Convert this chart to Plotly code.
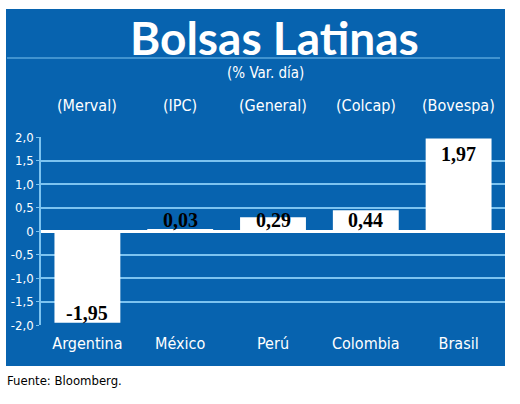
import plotly.graph_objects as go

paises = ["Argentina", "México", "Perú", "Colombia", "Brasil"]
indices = ["(Merval)", "(IPC)", "(General)", "(Colcap)", "(Bovespa)"]
variacion = [-1.95, 0.03, 0.29, 0.44, 1.97]
tick_vals = [2.0, 1.5, 1.0, 0.5, 0, -0.5, -1.0, -1.5, -2.0]
tick_text = ["2,0", "1,5", "1,0", "0,5", "0", "-0,5", "-1,0", "-1,5", "-2,0"]

BLUE = "#0763af"
GRID = "#7cc3f0"
COND = "DejaVu Sans Condensed, sans-serif"

fig = go.Figure()
fig.add_trace(go.Bar(x=paises, y=variacion, marker=dict(color="white", line=dict(width=0)),
                     hoverinfo="skip"))

def fmt(v):
    return f"{v:.2f}".replace(".", ",")

# pixel -> paper conversion: plot area spans x 41..505, y 137..325
def py(pix):
    return (325 - pix) / (325 - 137)
def px(pix):
    return (pix - 41) / (505 - 41)

annotations = []
for p, v in zip(paises, variacion):
    if abs(v) > 1:
        ya = v - 0.33 if v > 0 else v + 0.2
    else:
        ya = 0.24
    annotations.append(dict(x=p, y=ya, xref="x", yref="y", text=f"<b>{fmt(v)}</b>",
                            showarrow=False, xanchor="center", yanchor="middle",
                            font=dict(family="Liberation Serif", size=20, color="black")))
for p, t in zip(paises, indices):
    annotations.append(dict(x=p, y=py(105), xref="x", yref="paper", text=t, showarrow=False,
                            xanchor="center", yanchor="middle",
                            font=dict(family=COND, size=16, color="white")))

annotations += [
    dict(x=px(274), y=py(37), xref="paper", yref="paper", text="<b>Bolsas Latinas</b>", showarrow=False,
         xanchor="center", yanchor="middle", font=dict(family="Lato", size=46, color="white")),
    dict(x=px(265), y=py(73), xref="paper", yref="paper", text="(% Var. día)", showarrow=False,
         xanchor="center", yanchor="middle", font=dict(family=COND, size=15, color="white")),
    dict(x=px(5), y=py(380), xref="paper", yref="paper", text="Fuente: Bloomberg.", showarrow=False,
         xanchor="left", yanchor="middle", font=dict(family=COND, size=13, color="black")),
]

shapes = [
    dict(type="rect", xref="paper", yref="paper", x0=px(6), x1=px(505), y0=py(366), y1=py(9),
         fillcolor=BLUE, line=dict(width=0), layer="below"),
    dict(type="line", xref="paper", yref="paper", x0=px(7), x1=px(500), y0=py(58), y1=py(58),
         line=dict(color=GRID, width=1.2)),
]

fig.update_layout(
    width=520, height=404,
    margin=dict(l=41, r=15, t=137, b=79),
    paper_bgcolor="white", plot_bgcolor=BLUE,
    showlegend=False, bargap=0.29,
    annotations=annotations, shapes=shapes,
    xaxis=dict(showgrid=False, zeroline=False, showline=False, ticks="", ticklabelstandoff=7,
               tickfont=dict(family=COND, size=16, color="white"), fixedrange=True),
    yaxis=dict(range=[-2.0, 2.0], tickvals=tick_vals, ticktext=tick_text, showgrid=True,
               gridcolor=GRID, gridwidth=1.5, zeroline=True, zerolinecolor="white", zerolinewidth=3,
               showline=True, linecolor=GRID, linewidth=1.5, ticks="outside", ticklen=3, tickcolor=GRID,
               tickfont=dict(family=COND, size=13, color="white"), fixedrange=True),
)

fig.write_html("out.html")
